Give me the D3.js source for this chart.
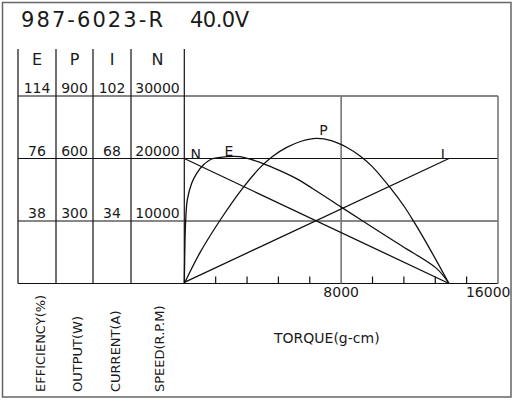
<!DOCTYPE html>
<html><head><meta charset="utf-8">
<script src="https://cdn.jsdelivr.net/npm/d3@7"></script>
<style>
html,body{margin:0;padding:0;background:#fff;}
svg text{font-family:"DejaVu Sans",sans-serif;fill:#1a1a1a;}
</style></head>
<body><svg id="c" width="516" height="400"></svg>
<script>
// ---- data ----
const title = "987-6023-R";
const voltage = "40.0V";
const columnHeads = ["E", "P", "I", "N"];
const effTicks = [38, 76, 114];
const powTicks = [300, 600, 900];
const curTicks = [34, 68, 102];
const spdTicks = [10000, 20000, 30000];
const axisNames = ["EFFICIENCY(%)", "OUTPUT(W)", "CURRENT(A)", "SPEED(R.P.M)"];
const torqueLabels = [8000, 16000];
const torqueTitle = "TORQUE(g-cm)";

const torqueN = [0, 13500];
const speed = [20000, 0];
const torqueI = [0, 13500];
const current = [0.6, 68];
const torqueP = [0, 800, 1800, 3000, 3900, 4500, 5200, 6000, 6750, 7500, 8300, 9000, 9600, 10500, 11200, 11700, 12500, 13500];
const power   = [0, 148, 300, 460, 560, 610, 652, 684, 697, 686, 653, 610, 560, 460, 372, 298, 170, 0];
const torqueE = [0, 36, 71, 153, 377, 632, 968, 1396, 2160, 2838, 3350, 4026, 4877, 5740, 6540, 7986, 9122, 9972, 11160, 12862, 13500];
const efficiency = [0, 26, 38.6, 50.8, 60.9, 67.0, 72.0, 75.7, 77.1, 77.1, 75.6, 72.9, 68.6, 63.6, 57.8, 46.6, 37.8, 31.3, 22.3, 9.2, 0];

// ---- layout ----
const svg = d3.select("#c");
const x = d3.scaleLinear().domain([0, 16000]).range([184.3, 498]);
const yTop = 96, yBot = 283.5;
const yN = d3.scaleLinear().domain([0, 30000]).range([yBot, yTop]);
const yE = d3.scaleLinear().domain([0, 114]).range([yBot, yTop]);
const yP = d3.scaleLinear().domain([0, 900]).range([yBot, yTop]);
const yI = d3.scaleLinear().domain([0, 102]).range([yBot, yTop]);
const colX = [18, 56, 93, 131, 184.3];
const colCenters = [37, 74.5, 112, 157.5];

// outer border
svg.append("rect").attr("x", 2.5).attr("y", 2.5).attr("width", 508.5).attr("height", 394.5)
  .attr("fill", "none").attr("stroke", "#666").attr("stroke-width", 1.5);

// title
svg.append("text").attr("x", 21).attr("y", 27).attr("font-size", 21)
  .attr("textLength", 142).attr("lengthAdjust", "spacing").text(title);
svg.append("text").attr("x", 190).attr("y", 27).attr("font-size", 21)
  .attr("textLength", 59).attr("lengthAdjust", "spacing").text(voltage);

const g = svg.append("g");
// horizontal grid lines (span table + plot)
g.selectAll("line.h").data(spdTicks.concat([0])).join("line")
  .attr("x1", colX[0]).attr("x2", x(16000))
  .attr("y1", d => yN(d)).attr("y2", d => yN(d))
  .attr("stroke", "#111").attr("stroke-width", 1.2);
// column lines
g.selectAll("line.v").data(colX).join("line")
  .attr("x1", d => d).attr("x2", d => d).attr("y1", 49).attr("y2", yBot)
  .attr("stroke", "#111").attr("stroke-width", 1.2);
// plot right border and 8000 gridline
g.selectAll("line.vg").data([8000, 16000]).join("line")
  .attr("x1", d => x(d)).attr("x2", d => x(d)).attr("y1", yTop).attr("y2", yBot)
  .attr("stroke", "#777").attr("stroke-width", 1.6);

// bottom ticks (every 1600)
const ticks = d3.range(1, 10).map(i => i * 1600).filter(v => v !== 8000);
g.selectAll("line.tk").data(ticks).join("line")
  .attr("x1", d => x(d)).attr("x2", d => x(d)).attr("y1", yBot).attr("y2", yBot - 7)
  .attr("stroke", "#111").attr("stroke-width", 1.2);

// column heads
svg.selectAll("text.head").data(columnHeads).join("text")
  .attr("x", (d, i) => colCenters[i]).attr("y", 65).attr("text-anchor", "middle")
  .attr("font-size", 16).text(d => d);

// tick values
const tickCols = [effTicks, powTicks, curTicks, spdTicks];
tickCols.forEach((arr, i) => {
  svg.selectAll("text.tc" + i).data(arr).join("text")
    .attr("x", colCenters[i]).attr("y", (d, k) => yN(spdTicks[k]) - 3)
    .attr("text-anchor", "middle").attr("font-size", 14)
    .text(d => d);
});

// rotated axis names
const nameX = [44.5, 82, 119.5, 163.5];
svg.selectAll("text.an").data(axisNames).join("text")
  .attr("transform", (d, i) => `translate(${nameX[i]},392) rotate(-90)`)
  .attr("font-size", 13).text(d => d);

// torque labels
svg.append("text").attr("x", x(torqueLabels[0])).attr("y", 296.5).attr("text-anchor", "middle")
  .attr("font-size", 14).text(torqueLabels[0]);
svg.append("text").attr("x", x(torqueLabels[1]) + 12.5).attr("y", 296.5).attr("text-anchor", "end")
  .attr("font-size", 14).text(torqueLabels[1]);
svg.append("text").attr("x", 274).attr("y", 343).attr("font-size", 14)
  .text(torqueTitle);

// curves
const curve = (tq, vals, ys, c) => d3.line().x((d, i) => x(tq[i])).y(d => ys(d)).curve(c)(vals);
const cg = svg.append("g").attr("fill", "none").attr("stroke", "#111").attr("stroke-width", 1.3);
cg.append("path").attr("d", curve(torqueN, speed, yN, d3.curveLinear));
cg.append("path").attr("d", curve(torqueI, current, yI, d3.curveLinear));
cg.append("path").attr("d", curve(torqueP, power, yP, d3.curveCatmullRom.alpha(0.5)));
cg.append("path").attr("d", curve(torqueE, efficiency, yE, d3.curveCatmullRom.alpha(0.5)));

// curve labels
const lab = [["N", x(0) + 11.5, yN(20000)], ["E", 229, 155.5], ["P", 323.5, 135], ["I", 442.7, 159]];
svg.selectAll("text.cl").data(lab).join("text")
  .attr("x", d => d[1]).attr("y", d => d[2]).attr("text-anchor", "middle")
  .attr("font-size", 14).text(d => d[0]);
</script></body></html>
